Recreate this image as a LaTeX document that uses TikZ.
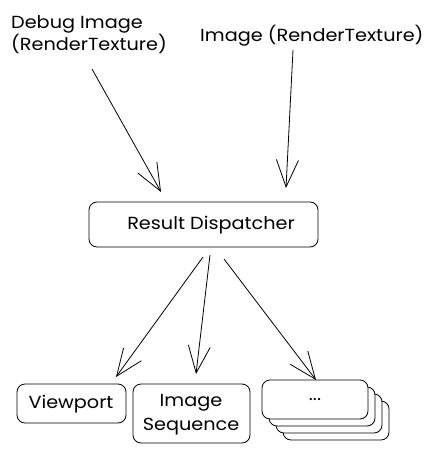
\documentclass[tikz,border=0pt]{standalone}
\usepackage{fontspec}
\setmainfont{Poppins}[FakeStretch=1.1]
\usetikzlibrary{arrows.meta}
\begin{document}
\begin{tikzpicture}[x=1pt,y=-1pt,
  lbl/.style={font=\fontsize{17.5}{22}\selectfont, inner sep=0pt, align=left},
  box/.style={draw=black, line width=0.8pt, rounded corners=8pt, fill=white},
  txt/.style={font=\fontsize{17.5}{24}\selectfont, inner sep=0pt, align=center},
  conn/.style={draw=black, line width=0.8pt, line join=round,
    -{Straight Barb[length=27pt,width=22pt,line width=0.8pt]}}]
\useasboundingbox (0,0) rectangle (438,454);
% top labels
\node[lbl, anchor=west] (debug) at (11,35) {Debug Image\\(RenderTexture)};
\node[lbl, anchor=west] (image) at (200,36) {Image (RenderTexture)};
% dispatcher
\draw[box] (89,202) rectangle (318,247);
\node[txt] (disp) at (211,225) {Result Dispatcher};
% bottom boxes
\draw[box] (17,384) rectangle (126,423);
\node[txt] (view) at (71,404) {Viewport};
\draw[box] (133,384) rectangle (250,443);
\node[txt] (seq) at (191,415) {Image\\Sequence};
\draw[box] (283,401) rectangle (389,440);
\draw[box] (276,394) rectangle (382,433);
\draw[box] (269,387) rectangle (375,426);
\draw[box] (262,380) rectangle (368,419);
\node[txt] (more) at (315,400) {...};
% connector ends
\coordinate (d1) at (92,69);  \coordinate (d2) at (161,192);
\coordinate (i1) at (293,50); \coordinate (i2) at (286,188);
\coordinate (a1) at (203,257); \coordinate (a2) at (116,377);
\coordinate (b1) at (210,255); \coordinate (b2) at (196,374);
\coordinate (c1) at (224,259); \coordinate (c2) at (316,380);
\draw[conn] (d1) -- (d2);
\draw[conn] (i1) -- (i2);
\draw[conn] (a1) -- (a2);
\draw[conn] (b1) -- (b2);
\draw[conn] (c1) -- (c2);
\end{tikzpicture}
\end{document}
